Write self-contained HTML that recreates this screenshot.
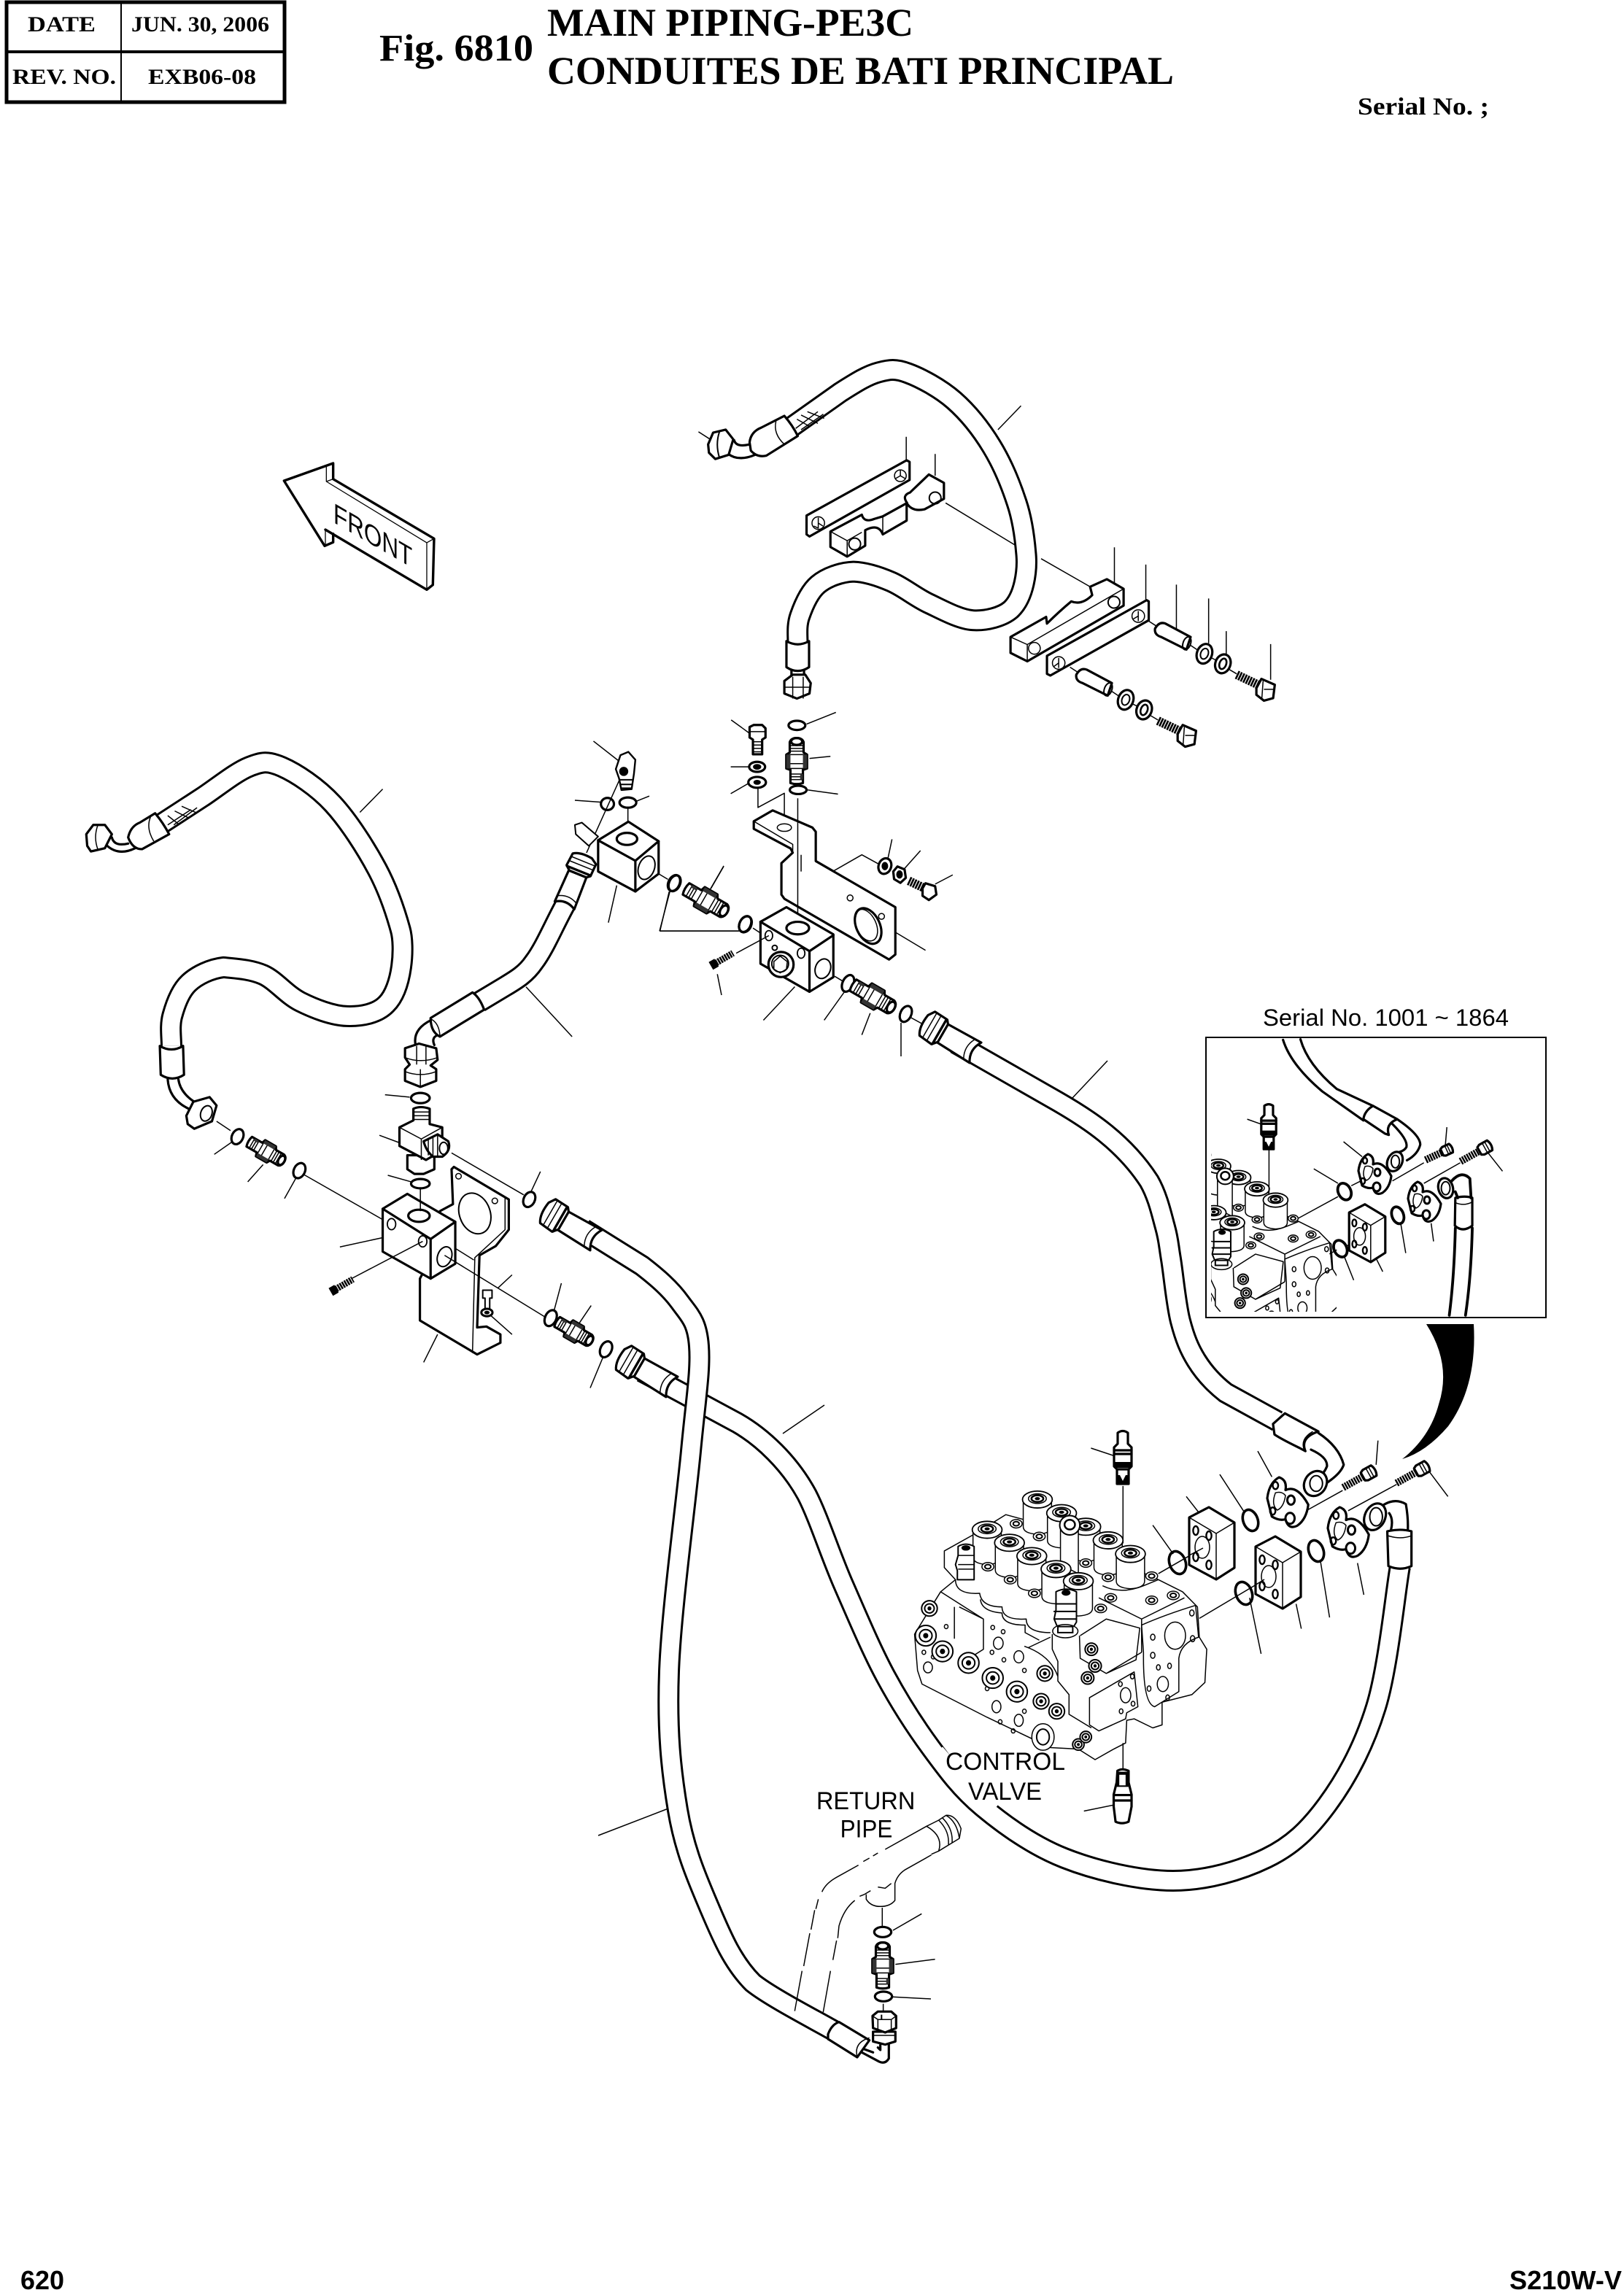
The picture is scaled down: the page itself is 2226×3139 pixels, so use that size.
<!DOCTYPE html>
<html><head><meta charset="utf-8"><title>Fig. 6810</title>
<style>
html,body{margin:0;padding:0;background:#fff}
svg{display:block}
svg *{vector-effect:non-scaling-stroke}
.k{fill:none;stroke:#000;stroke-width:3.2;stroke-linejoin:round;stroke-linecap:round}
.w{fill:#fff;stroke:#000;stroke-width:3.2;stroke-linejoin:round;stroke-linecap:round}
.t{fill:none;stroke:#000;stroke-width:1.5;stroke-linejoin:round}
.u{fill:#fff;stroke:#000;stroke-width:1.5;stroke-linejoin:round}
.d{fill:#000;stroke:#000;stroke-width:1}
.ho{fill:none;stroke:#000;stroke-width:30}
.hi{fill:none;stroke:#fff;stroke-width:24}
.se{font-family:"Liberation Serif",serif;font-weight:bold;fill:#000}
.sa{font-family:"Liberation Sans",sans-serif;fill:#000}
</style></head><body>
<svg xmlns="http://www.w3.org/2000/svg" width="2226" height="3139" viewBox="0 0 2226 3139">
<defs>
<clipPath id="ic"><rect x="1660" y="1426" width="172" height="372"/></clipPath>
<path id="hE" d="M880 1880 L1010 1950 C1045 1970 1082 2005 1106 2049 C1122 2080 1138 2131 1156 2172 C1174 2213 1194 2261 1214 2298 C1234 2335 1254 2366 1276 2396 C1298 2426 1317 2452 1347 2477 C1377 2502 1416 2530 1459 2547 C1502 2564 1562 2578 1608 2578 C1654 2578 1701 2564 1736 2547 C1771 2530 1794 2508 1819 2474 C1844 2440 1869 2395 1886 2340 C1903 2285 1913 2179 1919 2147"/>
<path id="hD" d="M800 1685 L880 1735 C902 1752 919 1767 932 1785 C945 1803 955.5 1811 958 1845 C960.5 1879 954 1915 947 1989 C940 2063 920 2209 917 2291 C914 2373 920 2427 929 2481 C938 2535 955 2574 972 2614 C989 2654 1004 2690 1032 2718 C1056 2737 1110 2765 1142 2783"/>
<path id="hG" d="M1310 1430 L1450 1510 C1490 1533 1540 1565 1575 1619 C1587 1640 1592 1664 1597 1682 C1602 1700 1601.5 1705 1605 1726 C1608.5 1747 1612 1788 1618 1811 C1624 1834 1630 1849 1640 1865 C1650 1881 1662 1895 1680 1909 L1751 1948"/>
<path id="hA" d="M320 150 L440 65 C475 43 503 25 530 18 C557 11 570 9 600 20 C630 31 677 56 710 85 C743 114 775 154 800 195 C825 236 846 287 860 330 C874 372 879.5 420 882 450 C886 490 878 555 845 585 C825 602 787 612 755 610 C723 608 682 585 650 570 C618 555 590 531 560 518 C530 505 499 495 470 494 C441 495 406 507 385 525 C364 543 350 577 342 600 C334 623 337 645 337 665"/>
<path id="hB" d="M210 210 L310 145 C343 123 382 91 410 80 C438 69 450 67 480 80 C510 93 556 123 590 160 C624 197 661 255 685 300 C709 345 724 390 735 430 C745 465 740 555 705 590 C685 611 651 617 620 616 C589 615 550 600 520 585 C490 570 467 539 440 527 C412 515 382 514 355 511 C328 514 298 528 280 545 C262 562 251 593 245 615 C239 637 243 660 243 680"/>
<path id="hC" d="M1090 375 C1065 420 1045 470 1022 500 C1005 525 985 537 960 552 L905 585"/>
<g id="fit">
<path class="w" d="M-33 -9 L-14 -9 L-12 -15 L8 -15 L11 -10 L26 -10 Q32 -8 32 0 Q32 8 26 10 L11 10 L8 15 L-12 15 L-14 9 L-33 9 Q-36 0 -33 -9Z"/>
<path class="t" d="M-28 -9V9M-24 -9V9M-20 -9V9M-12 -15V15M-5 -15V15M8 -15V15M13 -10V10M17 -10V10M21 -10V10"/>
<path d="M-12 -15H8V-9H-12ZM-28 -9h8v4h-8zM-12 9H8V15H-12Z" fill="#333"/>
<ellipse class="k" cx="27" cy="0" rx="5" ry="8" stroke-width="2"/>
</g>
<g id="hnut">
<path class="w" d="M8 -15 L60 -16 Q50 0 60 16 L8 14Z"/>
<path class="w" d="M-22 -12 Q-25 8 -18 18 L2 20 L8 13 L8 -15 L4 -20 L-16 -21Z"/>
<path class="t" d="M-13 -20V19M2 -20V20M-6 -20V20M50 -15Q42 0 50 15"/>
<path class="k" d="M3 -19V19"/>
</g>
<g id="ss">
<line x1="-10" y1="0" x2="17" y2="0" stroke="#000" stroke-width="9" stroke-dasharray="2.5 1.1"/>
<rect x="-18" y="-6" width="9" height="12" fill="#000"/>
</g>
<g id="screw">
<line x1="0" y1="0" x2="32" y2="0" stroke="#000" stroke-width="10" stroke-dasharray="2.4 1.2"/>
<path class="w" d="M31 -6 L35 -8 L48 -8 Q52 0 48 8 L35 8 L31 6Z"/>
<path class="t" d="M40 -8V8M44 -8V8"/>
</g>
<g id="plug">
<path class="w" d="M-7 2 Q0 -3 7 2 L7 17 L12 22 L12 48 L8 52 L8 72 L-8 72 L-8 52 L-12 48 L-12 22 L-7 17Z"/>
<path class="k" d="M-12 26H12M-12 31H12M-8 52H8"/>
<rect x="-12" y="42" width="24" height="8" fill="#000"/>
<path d="M-8 60H8V72H-8Z" fill="#000"/>
<path d="M-4 60H4L0 68Z" fill="#fff"/>
</g>
<g id="block">
<path class="w" d="M-31 -35 L-4 -49 L31 -28 L31 34 L6 50 L-31 30Z"/>
<path class="t" d="M-31 -35 L6 -13 L31 -28M6 -13V50"/>
<ellipse class="k" cx="-22" cy="-17" rx="3.6" ry="6" style="stroke-width:2.4"/>
<ellipse class="k" cx="-4" cy="-10" rx="3.6" ry="6" style="stroke-width:2.4"/>
<ellipse class="k" cx="-22" cy="19" rx="3.6" ry="6" style="stroke-width:2.4"/>
<ellipse class="k" cx="-4" cy="30" rx="3.6" ry="6" style="stroke-width:2.4"/>
<ellipse class="t" cx="-13" cy="6" rx="10" ry="15"/>
</g>
<g id="flange">
<path class="w" d="M-20 -5 Q-18 -22 -7 -28 Q2 -25 0 -14 Q13 -20 25 2 Q23 18 13 25 Q3 30 0 18 Q-7 20 -15 15Z"/>
<ellipse class="k" cx="-11" cy="-19" rx="3" ry="4" style="stroke-width:2.5"/>
<ellipse class="k" cx="-14" cy="9" rx="3" ry="4" style="stroke-width:2.5"/>
<ellipse class="k" cx="6" cy="-3" rx="4" ry="5" style="stroke-width:3"/>
<ellipse class="k" cx="5" cy="17" rx="5" ry="6" style="stroke-width:3"/>
<path class="t" d="M-11 -11 Q-16 2 -9 8 Q-2 5 0 -8Q-4 -13 -11 -11Z"/>
</g>
<g id="sol">
<path class="u" d="M-38 10 L-38 90 Q-38 112 0 115 Q38 112 38 90 L38 10Z"/>
<ellipse cx="0" cy="0" rx="40" ry="28" fill="#fff" stroke="#000" stroke-width="1.8"/>
<ellipse cx="0" cy="-3" rx="24" ry="16" fill="none" stroke="#000" stroke-width="1.5"/>
<ellipse cx="0" cy="-3" rx="16" ry="11" fill="none" stroke="#000" stroke-width="2.5"/>
<ellipse cx="0" cy="-3" rx="7" ry="5" fill="#000"/>
</g>
<g id="sb">
<ellipse rx="16" ry="14" fill="#fff" stroke="#000" stroke-width="1.5"/>
<ellipse rx="8" ry="7" fill="none" stroke="#000" stroke-width="2"/>
</g>
<g id="pl">
<ellipse rx="28" ry="34" fill="#fff" stroke="#000" stroke-width="2"/>
<ellipse rx="17" ry="20" fill="none" stroke="#000" stroke-width="2"/>
<ellipse rx="7" ry="9" fill="#000"/>
</g>
<g id="valve" transform="translate(1200,1900) scale(.5102,.4146)">
<path class="u" d="M185 545 L265 490 L350 425 L395 440 L760 640 L825 680 L865 730 L870 830 L890 870 L885 980 L850 1020 L770 1045 L770 1120 L745 1130 L695 1100 L675 1105 L672 1180 L640 1200 L590 1235 L545 1200 L470 1195 L300 1095 L125 985 L113 940 L105 820 L140 750 L175 680 L215 640 L185 600Z"/>
<path class="t" d="M215 640 Q215 690 280 685 Q285 730 340 730 Q340 775 405 770 Q405 815 470 815M282 705 Q285 745 340 750 Q340 790 402 790 L402 815 L440 840M175 680 L290 770 L290 870 L245 905M212 730 V835M225 730 L290 770M410 865 L470 830M475 820 V870 L490 910 V975 L520 1020 V1085L580 1130M548 825 L550 900 L620 950 L700 905 L710 800 L620 770 L550 825M575 1030 L695 945 L705 1060 L675 1080 L672 1100 L600 1140 L575 1120ZM400 860 Q470 890 490 960M610 660 Q660 690 720 660 L760 640M600 700 L715 770 L830 700M715 770 V880M715 880 L620 950"/>
<path class="u" d="M720 880 L715 790 Q780 755 860 725 L868 830 Q820 850 815 900 L815 1010 L750 1060 Q720 1050 720 900Z"/>
<ellipse class="u" cx="805" cy="825" rx="28" ry="45"/><ellipse class="u" cx="772" cy="985" rx="15" ry="25"/>
<ellipse class="u" cx="672" cy="1022" rx="14" ry="25"/>
<g class="t"><ellipse cx="141" cy="930" rx="12" ry="18"/><ellipse cx="330" cy="850" rx="13" ry="20"/><ellipse cx="385" cy="895" rx="13" ry="20"/><ellipse cx="325" cy="1060" rx="12" ry="20"/><ellipse cx="385" cy="1105" rx="12" ry="20"/><ellipse cx="130" cy="880" rx="5" ry="7"/><ellipse cx="155" cy="895" rx="5" ry="7"/><ellipse cx="190" cy="795" rx="5" ry="7"/><ellipse cx="315" cy="798" rx="5" ry="7"/><ellipse cx="343" cy="812" rx="5" ry="7"/><ellipse cx="313" cy="880" rx="5" ry="7"/><ellipse cx="345" cy="905" rx="5" ry="7"/><ellipse cx="400" cy="940" rx="5" ry="7"/><ellipse cx="300" cy="1000" rx="5" ry="7"/><ellipse cx="400" cy="1075" rx="5" ry="7"/><ellipse cx="335" cy="1110" rx="5" ry="7"/><ellipse cx="370" cy="1140" rx="5" ry="7"/><ellipse cx="745" cy="830" rx="6" ry="10"/><ellipse cx="850" cy="750" rx="6" ry="10"/><ellipse cx="852" cy="835" rx="6" ry="10"/><ellipse cx="745" cy="890" rx="6" ry="10"/><ellipse cx="760" cy="930" rx="5" ry="9"/><ellipse cx="790" cy="925" rx="5" ry="9"/><ellipse cx="735" cy="1000" rx="5" ry="9"/><ellipse cx="785" cy="1030" rx="5" ry="9"/><ellipse cx="658" cy="985" rx="5" ry="8"/><ellipse cx="690" cy="960" rx="5" ry="8"/><ellipse cx="692" cy="1050" rx="5" ry="8"/><ellipse cx="660" cy="1075" rx="5" ry="8"/></g>
<use href="#pl" x="135" y="825"/><use href="#pl" x="180" y="877"/><use href="#pl" x="250" y="915"/><use href="#pl" x="315" y="965"/><use href="#pl" x="380" y="1010"/>
<use href="#pl" transform="translate(445,1042) scale(.75)"/><use href="#pl" transform="translate(487,1075) scale(.75)"/><use href="#pl" transform="translate(455,950) scale(.75)"/><use href="#pl" transform="translate(580,870) scale(.6)"/><use href="#pl" transform="translate(590,925) scale(.6)"/><use href="#pl" transform="translate(570,965) scale(.6)"/><use href="#pl" transform="translate(545,1185) scale(.55)"/><use href="#pl" transform="translate(565,1160) scale(.55)"/><use href="#pl" transform="translate(145,735) scale(.75)"/>
<ellipse class="u" cx="450" cy="1160" rx="30" ry="44"/><ellipse class="k" cx="450" cy="1160" rx="17" ry="26" style="stroke-width:2"/>
<use href="#sol" x="435" y="375"/><use href="#sol" x="500" y="420"/><use href="#sol" x="565" y="465"/>
<path class="u" d="M497 470 L497 590 L545 620 L545 470Z"/><ellipse cx="522" cy="460" rx="27" ry="32" fill="#fff" stroke="#000" stroke-width="2"/><ellipse cx="522" cy="458" rx="14" ry="16" fill="none" stroke="#000" stroke-width="2.5"/>
<use href="#sol" x="625" y="510"/><use href="#sol" x="685" y="555"/>
<use href="#sol" x="300" y="475"/><use href="#sol" x="360" y="518"/><use href="#sol" x="420" y="562"/><use href="#sol" x="485" y="605"/><use href="#sol" x="545" y="645"/>
<use href="#sb" x="378" y="455"/><use href="#sb" x="440" y="497"/><use href="#sb" x="302" y="597"/><use href="#sb" x="362" y="640"/><use href="#sb" x="427" y="685"/><use href="#sb" x="605" y="735"/><use href="#sb" x="565" y="585"/><use href="#sb" x="625" y="632"/><use href="#sb" x="742" y="628"/><use href="#sb" x="742" y="708"/><use href="#sb" x="800" y="692"/><use href="#sb" x="632" y="700"/>
<path class="w" d="M222 530 Q242 515 265 530 L265 640 L220 640 L220 610 L215 590 L222 560Z" style="stroke-width:2"/>
<path class="t" d="M222 560H265M222 590H265M222 605H265"/><ellipse cx="243" cy="535" rx="12" ry="9" fill="#000"/>
<path class="w" d="M485 680 Q512 662 540 680 L540 780 L530 800 L490 800 L480 770 L485 740Z" style="stroke-width:2"/>
<path class="k" d="M485 720H540M480 745H540M482 770H540" style="stroke-width:2"/><ellipse cx="512" cy="683" rx="12" ry="10" fill="#000"/>
<ellipse class="u" cx="510" cy="810" rx="34" ry="22"/><rect x="490" y="795" width="40" height="20" fill="#fff" stroke="#000" stroke-width="2"/>
</g>
</defs>

<!-- header -->
<rect x="9" y="3" width="381" height="137" fill="none" stroke="#000" stroke-width="5"/>
<rect x="7" y="69" width="385" height="4" fill="#000"/><rect x="165" y="3" width="2" height="137" fill="#000"/>
<text class="se" x="38" y="43" font-size="30" textLength="93" lengthAdjust="spacingAndGlyphs">DATE</text>
<text class="se" x="180" y="43" font-size="30" textLength="189" lengthAdjust="spacingAndGlyphs">JUN. 30, 2006</text>
<text class="se" x="17" y="115" font-size="30" textLength="142" lengthAdjust="spacingAndGlyphs">REV. NO.</text>
<text class="se" x="203" y="115" font-size="30" textLength="148" lengthAdjust="spacingAndGlyphs">EXB06-08</text>
<text class="se" x="520" y="83" font-size="52" textLength="211" lengthAdjust="spacingAndGlyphs">Fig. 6810</text>
<text class="se" x="750" y="49" font-size="54" textLength="502" lengthAdjust="spacingAndGlyphs">MAIN PIPING-PE3C</text>
<text class="se" x="750" y="115" font-size="54" textLength="859" lengthAdjust="spacingAndGlyphs">CONDUITES DE BATI PRINCIPAL</text>
<text class="se" x="1861" y="157" font-size="34" textLength="180" lengthAdjust="spacingAndGlyphs">Serial No. ;</text>
<text class="sa" x="28" y="3138" font-size="36" font-weight="bold" textLength="60" lengthAdjust="spacingAndGlyphs">620</text>
<text class="sa" x="2069" y="3138" font-size="36" font-weight="bold" textLength="154" lengthAdjust="spacingAndGlyphs">S210W-V</text>

<!-- FRONT arrow -->
<g transform="translate(360,620) scale(.3333)">
<path class="t" d="M262 60V120L290 110M262 120L675 372L705 355M675 372V565M258 318V385" style="stroke-width:1.3"/>
<path class="k" d="M88 117L290 45V110L705 355L700 545L675 565L258 318M88 117L255 385L290 370V335" style="stroke-width:3.4"/>
</g>
<text class="sa" font-size="39" textLength="125" lengthAdjust="spacingAndGlyphs" transform="matrix(.866,.5,0,1,457,716)">FRONT</text>

<!-- hose leaders -->
<path class="t" d="M1130 1926L1073 1965M820 2516L916 2479M1518 1454L1470 1505M1235 1402V1448M1247 1394L1267 1405"/>
<!-- hose E then D -->
<use href="#hE" class="ho"/><use href="#hE" class="hi"/>
<path d="M1289 2397 Q1325 2440 1368 2474" fill="none" stroke="#fff" stroke-width="8"/>
<use href="#hD" class="ho"/><use href="#hD" class="hi"/>
<use href="#hG" class="ho"/><use href="#hG" class="hi"/>
<use href="#hnut" transform="translate(1285,1413) rotate(30)"/>
<use href="#hnut" transform="translate(765,1670) rotate(30)"/>
<use href="#hnut" transform="translate(869,1871) rotate(30)"/>

<!-- valve -->
<use href="#valve"/>
<g clip-path="url(#ic)"><use href="#valve" transform="translate(462.3,-122.9) scale(.83)"/></g>

<!-- z4 group: hardware around the valve -->
<g transform="translate(1200,1900) scale(.5102,.4146)">
<path class="t" d="M579 205L640 230M665 330V520M665 1180V1270M560 1405L640 1385M760 620L880 535M870 768L1045 640M745 460L800 555M835 365L870 420M925 292L990 415M1027 215L1065 300M1160 410L1255 345M1270 412L1400 325M1350 180L1345 260M1538 365L1488 283M1005 700L1036 885M1195 575L1220 765M1130 720L1144 802M1295 585L1312 690"/>
<path class="k" d="M1190 155 Q1245 200 1258 260 Q1250 290 1210 322M1170 210 Q1215 235 1213 265 Q1205 290 1190 300"/>
<path class="w" d="M1068 125 L1100 90 L1190 150 Q1140 170 1155 215 L1140 205 Q1090 175 1072 160Z"/>
<path class="t" d="M1175 150 Q1140 175 1152 212"/>
<ellipse class="w" cx="1182" cy="322" rx="30" ry="42" transform="rotate(15 1182 322)"/>
<ellipse class="k" cx="1184" cy="322" rx="17" ry="26" style="stroke-width:2"/>
<path class="k" d="M1362 395 Q1395 368 1425 390 Q1432 440 1430 480M1380 420 Q1392 440 1385 475"/>
<ellipse class="w" cx="1342" cy="432" rx="28" ry="45" transform="rotate(15 1342 432)"/>
<ellipse class="k" cx="1345" cy="432" rx="17" ry="30" style="stroke-width:2"/>
<path class="w" d="M1375 480 Q1410 470 1440 480 L1440 595 Q1410 612 1378 595Z"/>
<path class="t" d="M1378 495 Q1410 508 1440 495"/>
<path class="w" d="M645 1440 Q662 1450 680 1440 L688 1390 L688 1350 L680 1310 L680 1272 Q662 1262 650 1272 L648 1310 L640 1350 L640 1390Z"/>
<rect x="648" y="1275" width="32" height="50" fill="#000"/><path d="M655 1285H672V1320H655Z" fill="#fff"/><path class="k" d="M640 1352H688M640 1370H688"/>
</g>
<use href="#plug" x="1539" y="1962"/>
<use href="#block" x="1661" y="2115"/><use href="#block" x="1752" y="2155"/>
<path class="t" d="M1630 2132L1649 2122M1720 2173L1733 2165"/>
<use href="#flange" transform="translate(1762,2060) scale(1.25)"/><use href="#flange" transform="translate(1845,2101) scale(1.25)"/>
<use href="#screw" transform="translate(1841,2039) rotate(-29)"/><use href="#screw" transform="translate(1914,2033) rotate(-29)"/>
<ellipse class="k" cx="1614" cy="2142" rx="11" ry="16" transform="rotate(-20 1614 2142)" style="stroke-width:3.6"/>
<ellipse class="k" cx="1714" cy="2084" rx="10" ry="15" transform="rotate(-20 1714 2084)" style="stroke-width:3.6"/>
<ellipse class="k" cx="1705" cy="2184" rx="11" ry="16" transform="rotate(-20 1705 2184)" style="stroke-width:3.6"/>
<ellipse class="k" cx="1804" cy="2126" rx="10" ry="15" transform="rotate(-20 1804 2126)" style="stroke-width:3.6"/>
<text class="sa" x="1296" y="2426" font-size="34" textLength="164" lengthAdjust="spacingAndGlyphs">CONTROL</text>
<text class="sa" x="1327" y="2467" font-size="34" textLength="101" lengthAdjust="spacingAndGlyphs">VALVE</text>

<!-- inset -->
<rect x="1653" y="1422" width="466" height="384" fill="none" stroke="#000" stroke-width="2"/>
<text class="sa" x="1731" y="1406" font-size="32" textLength="337" lengthAdjust="spacingAndGlyphs">Serial No. 1001 ~ 1864</text>
<g transform="translate(1620,1360) scale(.3317)">
<path class="k" d="M418 197 Q450 300 580 410 L750 530M490 195 Q520 300 640 400 L790 470"/>
<path class="k" d="M890 525 Q985 590 985 630 Q975 670 930 695M870 545 Q935 610 928 640 Q920 655 900 660"/>
<path class="w" d="M750 525 Q755 490 790 470 L890 525 Q840 545 855 590 L840 585Z"/>
<ellipse class="w" cx="880" cy="700" rx="30" ry="42" transform="rotate(25 880 700)"/>
<ellipse class="k" cx="882" cy="700" rx="17" ry="26" style="stroke-width:2"/>
<path class="t" d="M270 525L335 548M360 650V830M480 935L645 845M700 800L740 780M870 780L1000 705M1000 790L1150 705M545 730L645 790M668 618L745 680M1095 558L1088 640M1325 740L1262 660M610 1082L640 1065M670 1090L710 1190M805 1105L830 1155M905 960L925 1078M1030 955L1040 1030M680 1050L735 1015"/>
<ellipse class="k" cx="672" cy="824" rx="26" ry="36" transform="rotate(-25 672 824)" style="stroke-width:3.8"/>
<ellipse class="k" cx="655" cy="1060" rx="26" ry="36" transform="rotate(-25 655 1060)" style="stroke-width:3.8"/>
<ellipse class="k" cx="892" cy="922" rx="24" ry="36" transform="rotate(-20 892 922)" style="stroke-width:3.8"/>
<path class="w" d="M1130 850 Q1170 840 1200 850 L1200 965 Q1160 995 1128 965Z"/>
<path class="t" d="M1130 870 Q1165 885 1198 868"/>
<path class="k" d="M1130 975 Q1125 1180 1105 1335M1200 975 Q1195 1180 1172 1335M1115 780 Q1155 735 1190 770 L1195 850M1130 825 L1140 850" style="stroke-width:3.8"/>
<ellipse class="w" cx="1090" cy="810" rx="30" ry="42" transform="rotate(-15 1090 810)"/>
<ellipse class="k" cx="1090" cy="810" rx="18" ry="27" style="stroke-width:2"/>
</g>
<use href="#plug" transform="translate(1739,1514) scale(.85)"/>
<use href="#block" transform="translate(1874,1690) scale(.8)"/>
<use href="#flange" x="1882" y="1610"/><use href="#flange" x="1950" y="1648"/>
<use href="#screw" transform="translate(1954,1590) rotate(-25) scale(.8)"/><use href="#screw" transform="translate(2002,1592) rotate(-29) scale(.95)"/>

<!-- black swoosh -->
<path d="M1955 1815 L2020 1815 Q2025 1900 1985 1955 Q1955 1990 1922 2000 Q1960 1970 1972 1925 Q1990 1870 1955 1815Z" fill="#000"/>

<!-- top & centre -->
<g transform="translate(900,500) scale(.5741)">
<use href="#hA" class="ho"/><use href="#hA" class="hi"/>
<path class="k" d="M185 180 Q190 198 222 190M170 212 Q195 232 235 215"/>
<path class="w" d="M222 185 Q225 160 250 150 L305 122 Q325 145 337 170 L262 217 Q240 222 225 205Z"/>
<path class="t" d="M285 135 Q278 165 305 190M335 130L365 147M345 120L385 140M360 112L400 128M332 152L385 112M345 155L398 118M362 150L405 118"/>
<path class="w" d="M123 190 L135 162 L165 155 L183 178 L172 215 L140 225 L125 210Z"/>
<path class="k" d="M150 160 Q140 190 150 222" style="stroke-width:2"/>
<path class="t" d="M100 160L128 178M870 98L815 155M596 172V230M665 213V265M690 330L855 430M918 463L1035 530M1093 436V520M1168 477V560M420 1210L490 1170L530 1192M570 1355L642 1398M358 858L428 830M178 848L222 880M177 960L222 960M177 1024L222 998M365 940L415 935M360 1015L433 1025M242 1010V1057L305 1023V1115M337 1035V1090M160 1198L130 1250M8 1352H198M8 1352L30 1258M230 1345L248 1357M450 1495L400 1565M510 1548L490 1600M255 1565L330 1485M145 1455L155 1505M562 1133L552 1180M630 1160L590 1205M707 1218L665 1240M425 1460L445 1472"/>
<path class="w" d="M358 360 L597 228 L604 232 L604 275 L365 410 L358 405Z"/>
<circle class="t" cx="386" cy="378" r="15"/><circle class="t" cx="582" cy="265" r="14"/><path class="t" d="M386 365V390L375 385M386 378L397 385M582 252V265L570 272M582 265L594 272"/>
<path class="w" d="M415 398 L490 358 Q495 378 520 368 L540 362 L598 330 Q585 312 605 305 L650 262 L686 282 L686 320 L640 345 Q610 352 597 330 L597 372 L540 405 Q530 378 498 395 L498 432 L455 458 L415 435Z"/>
<path class="t" d="M415 398L455 420V458M455 420L490 400M540 362V405"/>
<circle class="k" cx="473" cy="428" r="14" style="stroke-width:2"/><circle class="k" cx="665" cy="318" r="14" style="stroke-width:2"/>
<path class="w" d="M845 650 L930 602 L932 618 Q960 590 990 565 Q1015 575 1040 550 L1035 530 L1075 512 L1115 535 L1115 575 L885 708 L845 688Z"/>
<path class="t" d="M845 650L885 668L1115 535M885 668V708"/>
<circle class="t" cx="902" cy="677" r="14"/><circle class="k" cx="1092" cy="567" r="14" style="stroke-width:2"/>
<path class="w" d="M932 695 L1170 562 L1175 565 L1175 610 L940 742 L932 738Z"/>
<circle class="t" cx="960" cy="712" r="15"/><circle class="t" cx="1150" cy="600" r="15"/><path class="t" d="M960 700V724M960 712L949 720M1150 588V612M1150 600L1138 607"/>
<g id="hw">
<path class="t" d="M1175 612L1195 625M1275 670L1290 680M1325 700L1335 705M1368 728L1385 738"/>
<path class="w" d="M1190 630 Q1200 612 1215 618 L1275 650 L1265 680 L1205 650 Q1188 645 1190 630Z"/>
<ellipse class="k" cx="1266" cy="665" rx="9" ry="16" transform="rotate(20 1266 665)" style="stroke-width:2"/>
<ellipse class="w" cx="1308" cy="690" rx="18" ry="24" transform="rotate(20 1308 690)"/><ellipse class="k" cx="1308" cy="690" rx="9" ry="13" transform="rotate(20 1308 690)" style="stroke-width:2"/>
<ellipse class="w" cx="1352" cy="714" rx="18" ry="23" transform="rotate(20 1352 714)"/><ellipse class="k" cx="1352" cy="714" rx="8" ry="13" transform="rotate(20 1352 714)" style="stroke-width:2.6"/>
<line x1="1385" y1="740" x2="1440" y2="766" stroke="#000" stroke-width="12" stroke-dasharray="2.6 1.2"/>
<path class="w" d="M1432 772 L1444 750 L1476 764 L1472 796 L1450 802 L1432 788Z"/><path class="t" d="M1448 755L1445 798M1450 775L1473 775"/>
</g>
<use href="#hw" x="-188" y="110"/>
<path class="t" d="M1241 525V630M1318 558V665M1360 636V692M1466 667V752"/>
<!-- lower ferrule A -->
<path class="k" d="M322 730V745M352 730V745"/>
<path class="w" d="M310 660 Q337 675 364 660 L364 722 Q337 740 310 722Z"/>
<path class="w" d="M305 755 L325 740 L355 740 L368 760 L365 785 L335 797 L305 785Z"/><path class="t" d="M305 770H368M325 745V797M350 745V797"/>
<ellipse class="k" cx="335" cy="861" rx="20" ry="11"/>
<path class="w" d="M222 865 L232 860 L252 860 L260 868 L260 890 L252 895 L252 930 L230 930 L230 895 L222 890Z"/><path class="t" d="M222 876H260M230 900H252M230 908H252M230 916H252M230 924H252"/>
<ellipse class="w" cx="240" cy="960" rx="19" ry="12"/><ellipse class="d" cx="240" cy="960" rx="9" ry="6"/>
<ellipse class="w" cx="240" cy="997" rx="21" ry="13"/><ellipse class="d" cx="240" cy="997" rx="8" ry="5"/>
<ellipse class="k" cx="338" cy="1015" rx="20" ry="10"/>
<!-- bracket -->
<path class="w" d="M232 1090 L277 1064 L372 1105 L380 1115 L380 1185 L570 1295 L570 1408 L555 1420 L305 1275 L298 1265 L298 1190 L325 1165 L320 1155 L232 1108Z"/>
<path class="t" d="M232 1090L325 1145V1165M345 1170V1210M337 1090V1330"/>
<ellipse class="t" cx="305" cy="1105" rx="17" ry="9"/>
<ellipse class="k" cx="505" cy="1340" rx="28" ry="45" transform="rotate(-25 505 1340)"/><ellipse class="t" cx="500" cy="1338" rx="24" ry="40" transform="rotate(-25 500 1338)"/>
<circle class="t" cx="462" cy="1273" r="7"/><circle class="t" cx="537" cy="1317" r="7"/>
<ellipse class="w" cx="545" cy="1197" rx="15" ry="19" transform="rotate(20 545 1197)"/><ellipse class="d" cx="545" cy="1197" rx="7" ry="9"/>
<path class="w" d="M565 1210 L575 1198 L592 1205 L595 1225 L582 1237 L567 1228Z"/><ellipse class="d" cx="580" cy="1217" rx="7" ry="9"/>
<line x1="602" y1="1232" x2="640" y2="1250" stroke="#000" stroke-width="12" stroke-dasharray="2.6 1.2"/>
<path class="w" d="M635 1250 L642 1238 L665 1245 L668 1265 L650 1278 L635 1268Z"/>
<!-- block -->
<path class="w" d="M248 1330 L310 1295 L422 1360 L422 1462 L365 1497 L248 1430Z"/>
<path class="k" d="M248 1330L365 1400V1497M365 1400L422 1362"/>
<ellipse class="k" cx="337" cy="1345" rx="27" ry="15"/><ellipse class="k" cx="268" cy="1363" rx="9" ry="12" style="stroke-width:1.8"/><ellipse class="k" cx="345" cy="1405" rx="9" ry="12" style="stroke-width:1.8"/><ellipse class="k" cx="397" cy="1442" rx="18" ry="24" transform="rotate(20 397 1442)" style="stroke-width:2"/>
<path class="t" d="M190 1405L268 1363"/>
<ellipse class="w" cx="297" cy="1432" rx="30" ry="30"/><circle class="k" cx="295" cy="1430" r="20" style="stroke-width:2"/><circle cx="282" cy="1392" r="6" fill="#fff" stroke="#000" stroke-width="2"/><path class="t" d="M280 1425L295 1412L312 1425L310 1443L295 1452L280 1443Z"/>
<ellipse class="k" cx="212" cy="1336" rx="14" ry="20" transform="rotate(25 212 1336)"/>
<ellipse class="k" cx="43" cy="1238" rx="13" ry="20" transform="rotate(25 43 1238)"/>
<ellipse class="k" cx="457" cy="1477" rx="13" ry="21" transform="rotate(25 457 1477)"/>
<ellipse class="k" cx="595" cy="1550" rx="13" ry="20" transform="rotate(25 595 1550)"/>
</g>
<use href="#fit" transform="translate(1092,1042) rotate(90) scale(.95) scale(-1,1)"/>
<use href="#fit" transform="translate(969,1235) rotate(30)"/>
<use href="#fit" transform="translate(1198,1367) rotate(30)"/>
<use href="#ss" transform="translate(990,1315) rotate(-30)"/>

<!-- left -->
<g transform="translate(80,1000) scale(.6378)">
<use href="#hB" class="ho"/><use href="#hB" class="hi"/>
<path class="k" d="M115 232 Q120 252 150 245M105 250 Q130 272 165 255"/>
<path class="w" d="M150 232 Q155 208 175 200 L208 180 Q225 200 238 225 L180 257 Q160 258 150 232Z"/>
<path class="t" d="M198 188 Q188 212 205 240M235 205L285 172M248 205L298 168M235 185L258 203M250 175L280 190M265 165L295 178"/>
<path class="w" d="M60 225 L75 205 L100 205 L115 225 L100 255 L70 262 L62 250Z"/><path class="t" d="M85 205Q75 232 85 258"/>
<path class="k" d="M235 752 Q238 795 280 815M258 752 Q262 780 292 800"/>
<path class="w" d="M218 680 Q243 695 268 680 L270 742 Q245 758 220 742Z"/>
<path class="w" d="M275 830 L290 800 L325 790 L340 808 L330 842 L292 858 L278 848Z"/><ellipse class="k" cx="318" cy="825" rx="12" ry="17" transform="rotate(20 318 825)" style="stroke-width:2"/>
<path class="t" d="M697 128L648 178M1005 553L1104 660M335 913L375 885M407 972L440 935M486 1008L510 965M525 955L695 1052M605 1112L697 1092M702 785L755 790M690 872L733 888M708 958L758 972M1110 152L1165 156M1270 143L1240 155M1150 25L1205 68M1205 110L1135 265M1224 170V200M1200 335L1182 415M1290 310L1310 322M1292 433H1462M1292 433L1315 345M1430 293L1400 345M1036 950L1015 995M1081 1190L1065 1250M1145 1238L1120 1275M1143 1415L1170 1350M975 1172L945 1200M975 1300L930 1260M785 1360L815 1300M340 842L370 862"/>
<!-- hose C -->
<use href="#hC" class="ho"/><use href="#hC" class="hi"/>
<path class="k" d="M768 680 Q760 645 800 625M808 678 Q800 660 820 655"/>
<path class="w" d="M800 620 L890 565 Q905 575 915 602 L820 660 Q800 650 800 620Z"/>
<path class="t" d="M800 622Q818 630 820 658"/>
<path class="w" d="M745 685 L775 675 L812 685 L815 710 L800 722 L812 730 L812 755 L778 768 L745 755 L745 730 L755 720 L745 705Z"/><path class="t" d="M745 705 Q778 718 815 705M745 735 Q778 748 812 735M770 680V720M790 680V720M778 730V768"/>
<ellipse class="k" cx="778" cy="792" rx="20" ry="11"/>
<!-- T fitting -->
<path class="w" d="M750 915 H808 V945 L785 955 H765 L750 945Z"/>
<path class="w" d="M733 855 L763 840 V815 Q778 808 798 815 V848 L825 855 V905 L790 925 L733 895Z"/>
<path class="t" d="M763 822H798M763 830H798M763 838H798M733 855L780 880V925M780 880L825 855"/>
<path class="w" d="M785 885 L815 870 L838 885 Q845 905 825 918 L805 918 Q790 905 785 885Z"/><path class="t" d="M795 880V915M805 877V917M815 873V918"/><ellipse class="k" cx="828" cy="900" rx="9" ry="13" style="stroke-width:2"/>
<ellipse class="k" cx="778" cy="976" rx="20" ry="10"/>
<!-- bracket -->
<path class="w" d="M777 1180 V1270 L900 1343 L950 1318 V1300 L920 1283 L900 1285 L905 1130 L940 1110 L968 1075 V1010 L850 940 L845 945 L848 1020 L820 1035 L820 1100Z"/>
<path class="t" d="M860 945 L960 1005 V1075 L895 1135 L890 1340M845 1110L893 1140M845 910L1000 1000"/>
<ellipse class="k" cx="895" cy="1040" rx="33" ry="45" transform="rotate(-20 895 1040)" style="stroke-width:2"/><circle class="t" cx="938" cy="1013" r="6"/><circle class="t" cx="860" cy="960" r="6"/>
<!-- block -->
<path class="w" d="M697 1030 L750 998 L853 1058 L853 1148 L800 1180 L697 1122Z"/>
<path class="k" d="M697 1030L800 1095V1180M800 1095L853 1058"/>
<ellipse class="k" cx="775" cy="1045" rx="23" ry="13"/><ellipse class="k" cx="716" cy="1063" rx="9" ry="12" style="stroke-width:1.8"/><ellipse class="k" cx="783" cy="1100" rx="9" ry="12" style="stroke-width:1.8"/><ellipse class="k" cx="830" cy="1133" rx="15" ry="22" transform="rotate(20 830 1133)" style="stroke-width:2"/>
<path class="t" d="M778 986V1035M830 1130L1045 1262M630 1180L783 1100"/>
<path class="w" d="M912 1205 H932 V1222 H927 V1250 H917 V1222 H912Z" style="stroke-width:2"/>
<ellipse cx="921" cy="1253" rx="12" ry="8" fill="#fff" stroke="#000" stroke-width="3"/><ellipse class="d" cx="921" cy="1253" rx="5" ry="3"/>
<ellipse class="k" cx="385" cy="875" rx="12" ry="17" transform="rotate(25 385 875)"/>
<ellipse class="k" cx="518" cy="948" rx="12" ry="17" transform="rotate(25 518 948)"/>
<ellipse class="k" cx="1012" cy="1010" rx="12" ry="17" transform="rotate(25 1012 1010)"/>
<ellipse class="k" cx="1058" cy="1265" rx="12" ry="18" transform="rotate(25 1058 1265)"/>
<ellipse class="k" cx="1177" cy="1332" rx="12" ry="18" transform="rotate(25 1177 1332)"/>
<ellipse class="k" cx="1180" cy="160" rx="14" ry="13"/>
<ellipse class="k" cx="1224" cy="157" rx="18" ry="11"/>
<ellipse class="k" cx="1323" cy="330" rx="12" ry="18" transform="rotate(25 1323 330)"/>
<ellipse class="k" cx="1476" cy="418" rx="12" ry="18" transform="rotate(25 1476 418)"/>
<!-- block 2 -->
<path class="w" d="M1110 205 L1125 200 L1160 230 L1140 250 L1112 225Z" style="stroke-width:2"/>
<path class="w" d="M1160 238 L1225 198 L1290 240 L1290 310 L1240 348 L1160 305Z"/>
<path class="k" d="M1160 238L1240 282V348M1240 282L1290 240"/>
<ellipse class="k" cx="1222" cy="235" rx="22" ry="13"/><ellipse class="k" cx="1264" cy="297" rx="17" ry="26" transform="rotate(20 1264 297)" style="stroke-width:2"/>
<!-- elbow -->
<path class="w" d="M1198 85 L1208 55 L1225 48 L1240 65 L1237 95 L1232 128 L1210 130 L1205 105Z" style="stroke-width:2.4"/><circle class="d" cx="1215" cy="90" r="9"/><path class="k" d="M1207 108H1235M1208 118H1233M1210 126H1232" style="stroke-width:2"/>
</g>
<use href="#hnut" transform="translate(794,1191) rotate(112) scale(.9)"/>
<use href="#fit" transform="translate(366,1579) rotate(30) scale(.85)"/>
<use href="#fit" transform="translate(788,1826) rotate(30) scale(.85)"/>
<use href="#ss" transform="translate(469,1762) rotate(-30)"/>

<!-- return pipe -->
<g transform="translate(1000,2400) scale(.3333)">
<text class="sa" x="357" y="240" font-size="102" textLength="406" lengthAdjust="spacingAndGlyphs">RETURN</text>
<text class="sa" x="455" y="355" font-size="102" textLength="215" lengthAdjust="spacingAndGlyphs">PIPE</text>
<path class="t" d="M810 310L640 405M610 420L590 432M575 441L550 455M530 470L440 520Q395 545 380 580M365 610L355 650M350 655L335 735M330 750L305 885M298 905L268 1070M860 412L830 425M830 428L720 490Q690 510 680 545V615Q660 640 620 640Q580 640 562 610V590M555 590L580 575M610 560L640 565L665 545M535 598L555 590M515 615Q470 650 450 720L445 770M440 780L425 860M415 905L385 1075M628 645V720M672 738L790 670M682 878L845 857M672 1012L828 1020M632 1040V1090"/>
<path class="t" d="M810 310 L860 285 L890 265 Q930 262 952 320 L945 360 L860 412 Q880 350 810 310ZM860 285Q905 330 900 385M875 275Q920 320 915 378M890 265Q935 290 945 360" style="stroke-width:1.5"/>
<ellipse class="k" cx="630" cy="745" rx="35" ry="21"/>
<ellipse class="k" cx="633" cy="1010" rx="35" ry="20"/>
<path class="k" d="M620 1210 V1230 L610 1220M655 1205 V1265 Q640 1290 615 1278 L540 1238 M535 1220 L590 1240"/>
<path class="w" d="M405 1165 Q420 1125 450 1115 L575 1190 L525 1260 L405 1185Z"/>
<path class="t" d="M575 1180 Q510 1200 525 1258"/>
<path class="w" d="M590 1155 H682 V1195 L640 1208 L590 1195Z"/>
<path class="w" d="M588 1090 L610 1072 H665 L685 1090 V1140 L640 1158 L590 1140Z"/>
<path class="t" d="M610 1105H665L685 1090M610 1105L588 1090M610 1105V1155M665 1105V1150M590 1170H682"/>
<path d="M625 1085V1105" stroke="#000" stroke-width="2"/>
</g>
<use href="#fit" transform="translate(1210,2693) rotate(90) scale(.95) scale(-1,1)"/>
</svg>
</body></html>
